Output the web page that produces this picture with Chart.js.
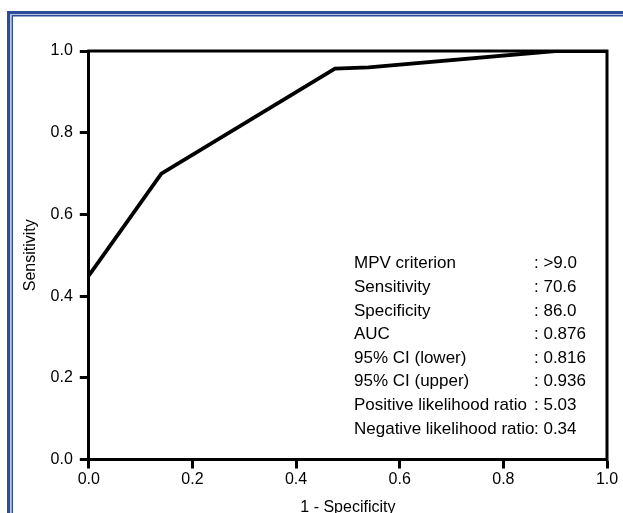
<!DOCTYPE html>
<html><head><meta charset="utf-8">
<script src="https://cdn.jsdelivr.net/npm/chart.js@4/dist/chart.umd.min.js"></script>
<style>
html,body{margin:0;padding:0;background:#fff;overflow:hidden}
#wrap{width:623px;height:513px;overflow:hidden;position:relative;background:#fff}
canvas{display:block}
</style></head>
<body><div id="wrap"><canvas id="c" width="623" height="540"></canvas></div>
<script>
// ROC curve points (1 - specificity, sensitivity)
const fprX = [0, 0.14, 0.475, 0.54, 0.9, 1.0];
const tprY = [0.45, 0.70, 0.957, 0.96, 1.0, 1.0];
const tickValues = [0, 0.2, 0.4, 0.6, 0.8, 1.0];
const statLabels = ['MPV criterion', 'Sensitivity', 'Specificity', 'AUC', '95% CI (lower)', '95% CI (upper)', 'Positive likelihood ratio', 'Negative likelihood ratio'];
const statValues = [': >9.0', ': 70.6', ': 86.0', ': 0.876', ': 0.816', ': 0.936', ': 5.03', ': 0.34'];
const xTitle = '1 - Specificity';
const yTitle = 'Sensitivity';

const FONT = "'Liberation Sans', Arial, Helvetica, sans-serif";

const framePlugin = {
  id: 'frame',
  beforeDraw(chart) {
    const ctx = chart.ctx;
    ctx.save();
    ctx.fillStyle = '#fff';
    ctx.fillRect(0, 0, chart.width, chart.height);
    ctx.strokeStyle = '#2D4B9B';
    ctx.lineWidth = 3;
    ctx.strokeRect(8.5, 12.5, 700, 700);
    ctx.strokeStyle = '#B9C5E4';
    ctx.lineWidth = 1;
    ctx.strokeRect(10.5, 14.5, 700, 700);
    ctx.strokeStyle = '#2D4B9B';
    ctx.lineWidth = 1.5;
    ctx.strokeRect(12.25, 15.75, 700, 700);
    ctx.restore();
  }
};

const boxPlugin = {
  id: 'box',
  afterDraw(chart) {
    const {ctx, chartArea} = chart;
    ctx.save();
    ctx.strokeStyle = '#000';
    ctx.lineWidth = 3;
    ctx.lineCap = 'square';
    ctx.beginPath();
    ctx.moveTo(chartArea.left, chartArea.top);
    ctx.lineTo(chartArea.right, chartArea.top);
    ctx.lineTo(chartArea.right, chartArea.bottom);
    ctx.stroke();
    ctx.restore();
  }
};

const statsPlugin = {
  id: 'stats',
  afterDraw(chart) {
    const ctx = chart.ctx;
    ctx.save();
    ctx.fillStyle = '#000';
    ctx.font = '17px ' + FONT;
    ctx.textBaseline = 'alphabetic';
    ctx.textAlign = 'left';
    const labelX = 354, colonX = 534, base0 = 268.3, step = 23.6;
    statLabels.forEach((lab, i) => {
      const y = base0 + i * step;
      ctx.fillText(lab, labelX, y);
      ctx.fillText(statValues[i], colonX, y);
    });
    ctx.restore();
  }
};

new Chart(document.getElementById('c'), {
  type: 'line',
  data: {
    datasets: [{
      data: fprX.map((x, i) => ({x: x, y: tprY[i]})),
      borderColor: '#000',
      borderWidth: 3.8,
      borderJoinStyle: 'miter',
      pointRadius: 0,
      tension: 0,
      fill: false
    }]
  },
  options: {
    responsive: false,
    devicePixelRatio: 1,
    animation: false,
    layout: {padding: {left: 0, top: 51, right: 16, bottom: 0}},
    plugins: {legend: {display: false}, tooltip: {enabled: false}},
    scales: {
      x: {
        type: 'linear', min: 0, max: 1,
        afterBuildTicks: s => { s.ticks = tickValues.map(v => ({value: v})); },
        afterFit: s => { s.height = 80.5; },
        ticks: {color: '#000', font: {family: FONT, size: 16}, padding: 1, callback: v => v.toFixed(1), maxRotation: 0},
        grid: {drawOnChartArea: false, tickLength: 9, tickWidth: 3, tickColor: '#000'},
        border: {display: true, color: '#000', width: 3},
        title: {display: true, text: xTitle, color: '#000', font: {family: FONT, size: 16}, padding: {top: 0, bottom: 22.8}}
      },
      y: {
        type: 'linear', min: 0, max: 1,
        afterBuildTicks: s => { s.ticks = tickValues.map(v => ({value: v})); },
        afterFit: s => { s.width = 88.8; },
        ticks: {color: '#000', font: {family: FONT, size: 16}, padding: 7, callback: v => v.toFixed(1)},
        grid: {drawOnChartArea: false, tickLength: 9, tickWidth: 3, tickColor: '#000'},
        border: {display: true, color: '#000', width: 3},
        title: {display: true, text: yTitle, color: '#000', font: {family: FONT, size: 16}, padding: {top: 20.5, bottom: 0}}
      }
    }
  },
  plugins: [framePlugin, boxPlugin, statsPlugin]
});
</script>
</body></html>
